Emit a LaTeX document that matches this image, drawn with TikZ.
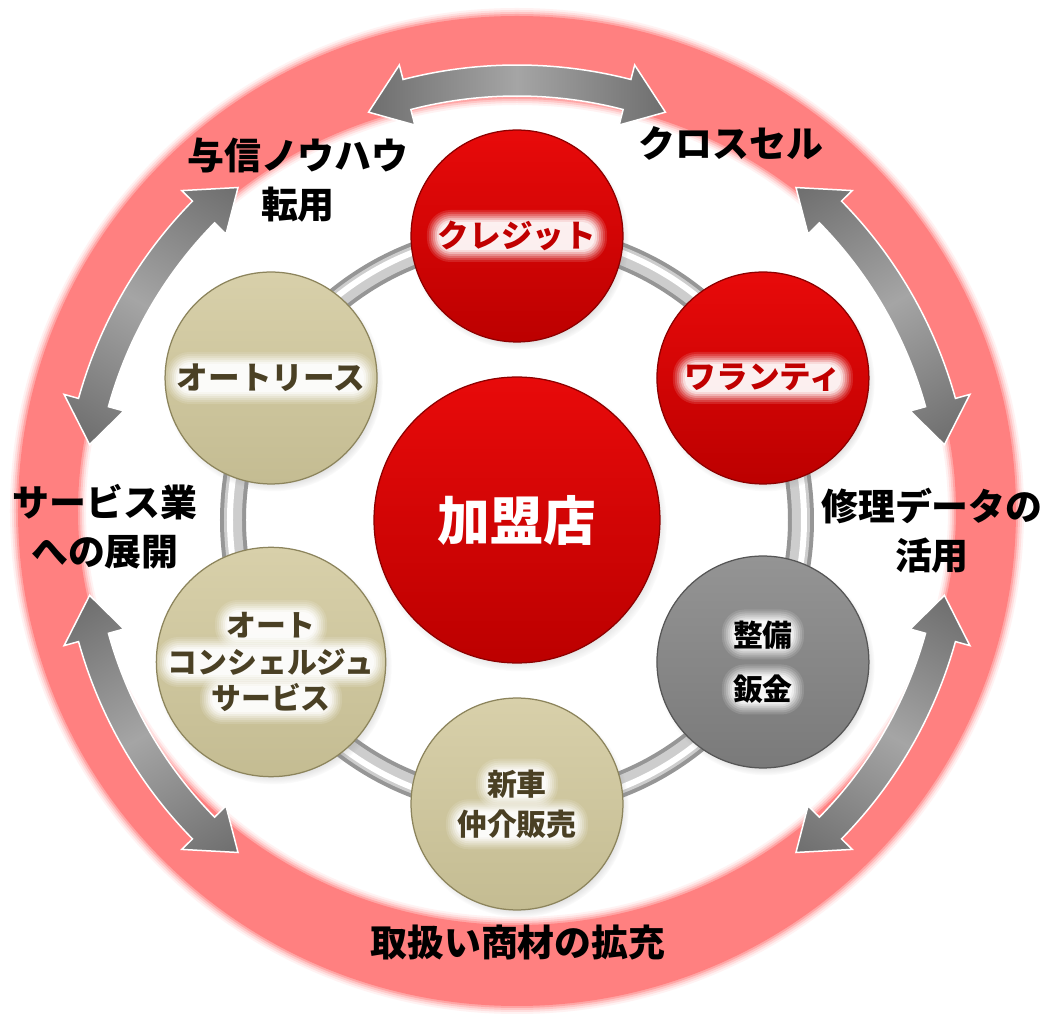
\documentclass[tikz,border=0pt]{standalone}
\usepackage{fontspec}
\newfontfamily\jpfont{Noto Sans CJK JP}
\usetikzlibrary{shadows}

\definecolor{ringpink}{RGB}{255,128,128}
\definecolor{redtop}{RGB}{232,10,10}
\definecolor{redbot}{RGB}{188,0,0}
\definecolor{redrim}{RGB}{140,0,0}
\definecolor{redtext}{RGB}{192,0,0}
\definecolor{tantop}{RGB}{216,208,170}
\definecolor{tanbot}{RGB}{196,188,146}
\definecolor{tanrim}{RGB}{140,132,92}
\definecolor{olivetext}{RGB}{74,64,36}
\definecolor{greytop}{RGB}{148,148,148}
\definecolor{greybot}{RGB}{122,122,122}
\definecolor{greyrim}{RGB}{86,86,86}
\definecolor{tubedark}{RGB}{150,150,150}
\definecolor{tubemid}{RGB}{205,205,205}
\definecolor{arrowdark}{RGB}{110,110,110}
\definecolor{arrowlight}{RGB}{165,165,165}

% soft white glow behind one line of ball text: y offset, width, height (px)
\newcommand\glowpill[3]{%
  \foreach \p/\o in {12/0.12, 10/0.15, 8/0.2, 6/0.25, 4/0.35, 2/0.5, 0/0.6}
    \fill[white, opacity=\o, rounded corners={0.9*(#3/2+\p)*0.2mm}]
      ([shift={(-#2/2-\p,#1-#3/2-\p)}]path picture bounding box.center)
      rectangle ([shift={(#2/2+\p,#1+#3/2+\p)}]path picture bounding box.center);
}

\tikzset{
  ball/.style={circle, inner sep=0pt, align=center, minimum size=4.24cm, line width=0.25mm,
    circular drop shadow={shadow xshift=0.5mm, shadow yshift=-0.8mm, shadow scale=1.03, opacity=0.45}},
  redball/.style={ball, top color=redtop, bottom color=redbot, draw=redrim, text=redtext},
  tanball/.style={ball, top color=tantop, bottom color=tanbot, draw=tanrim, text=olivetext},
  greyball/.style={ball, top color=greytop, bottom color=greybot, draw=greyrim, text=black},
  balltext/.style={font=\jpfont\bfseries\fontsize{18pt}{22pt}\selectfont},
  outerlabel/.style={align=center, font=\jpfont\bfseries\fontsize{21pt}{28pt}\selectfont},
  dblarrow/.style={left color=arrowdark, right color=arrowdark, middle color=arrowlight, draw=white, line width=0.3mm}
}

\begin{document}
\begin{tikzpicture}[x=0.02cm, y=0.02cm]
  \useasboundingbox (-517,-497) rectangle (532,520);
  \fill[white] (-517,-497) rectangle (532,520);

  % soft pink ring
  \foreach \d/\o in {8/10, 6/25, 4/45, 2/70, 0/100}
    \fill[ringpink!\o!white, even odd rule]
      (0,9) ellipse[x radius=499+\d, y radius=495+\d]
      (0,9) ellipse[x radius=439-\d, y radius=414-\d];

  % double arrows
  \foreach \a in {90,30,-30,-150,150} {
    \begin{scope}[transform canvas={rotate=\a-90}]
      \shadedraw[dblarrow] (75.5:424) arc[start angle=75.5, end angle=104.5, radius=424]
        -- (104.5:408) -- (110:434) -- (104.5:470) -- (104.5:455)
        arc[start angle=104.5, end angle=75.5, radius=455]
        -- (75.5:470) -- (70:434) -- (75.5:408) -- cycle;
    \end{scope}
  }

  \node[outerlabel] (yoshin) at (-219,340) {与信ノウハウ\\転用};
  \node[outerlabel] (crosssell) at (214,377) {クロスセル};
  \node[outerlabel] (service) at (-412,-7) {サービス業\\への展開};
  \node[outerlabel] (repair) at (415,-11) {修理データの\\活用};
  \node[outerlabel] (goods) at (1,-423) {取扱い商材の拡充};

  % tube
  \draw[tubedark, line width=5.2mm] (0,0) circle[radius=284];
  \draw[tubemid, line width=3.6mm] (0,0) circle[radius=284];
  \draw[white, line width=1.2mm] (0,0) circle[radius=287];

  \node[redball, minimum size=5.72cm, text=white, font=\jpfont\bfseries\fontsize{30pt}{34pt}\selectfont] (kameiten) at (0,0) {加盟店};
  \node[redball, balltext, path picture={\glowpill{0}{156}{28}}] (credit) at (90:284) {クレジット};
  \node[redball, balltext, path picture={\glowpill{0}{156}{28}}] (warranty) at (30:284) {ワランティ};
  \node[greyball, balltext, font=\jpfont\bfseries\fontsize{17pt}{31pt}\selectfont,
    path picture={\glowpill{27.5}{58}{26}\glowpill{-27.5}{58}{26}}] (bankin) at (-30:284) {整備\\鈑金};
  \node[tanball, balltext, font=\jpfont\bfseries\fontsize{17pt}{23pt}\selectfont,
    path picture={\glowpill{20.3}{58}{26}\glowpill{-20.3}{118}{26}}] (shinsha) at (-90:284) {新車\\仲介販売};
  \node[tanball, balltext, font=\jpfont\bfseries\fontsize{17pt}{21pt}\selectfont,
    path picture={\glowpill{37}{88}{26}\glowpill{0}{206}{26}\glowpill{-37}{118}{26}}] (concierge) at (-150:284) {オート\\コンシェルジュ\\サービス};
  \node[tanball, balltext, path picture={\glowpill{0}{186}{28}}] (lease) at (150:284) {オートリース};
\end{tikzpicture}
\end{document}
